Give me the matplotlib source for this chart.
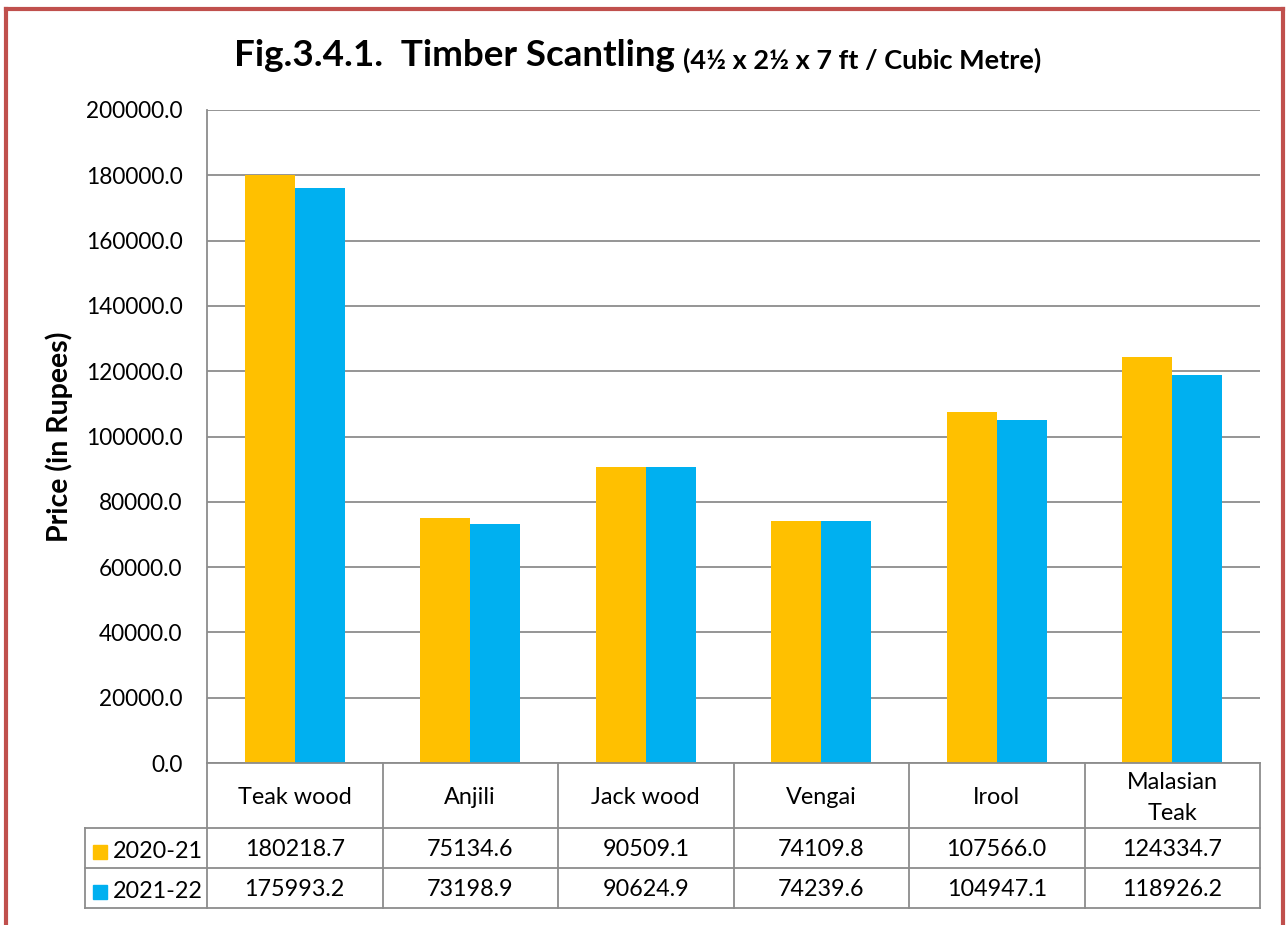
import matplotlib
matplotlib.use("Agg")
import matplotlib.pyplot as plt
from matplotlib.lines import Line2D
from matplotlib.patches import Rectangle

plt.rcParams['font.family'] = ['Lato', 'DejaVu Sans']

# data
categories = ["Teak wood", "Anjili", "Jack wood", "Vengai", "Irool", "Malasian\nTeak"]
series_names = ["2020-21", "2021-22"]
vals_2020 = [180218.7, 75134.6, 90509.1, 74109.8, 107566.0, 124334.7]
vals_2021 = [175993.2, 73198.9, 90624.9, 74239.6, 104947.1, 118926.2]
colors = ["#FFC000", "#00B0F0"]
yticks = [0, 20000, 40000, 60000, 80000, 100000, 120000, 140000, 160000, 180000, 200000]

W, H = 1287, 925
fig = plt.figure(figsize=(W / 100, H / 100), dpi=100)


def fx(px):
    return px / W


def fy(py):
    return 1 - py / H


# red outer frame
for xs, ys in [((6, 6), (9, 925)), ((6, 1283), (9, 9)), ((1283, 1283), (9, 925))]:
    fig.add_artist(Line2D([fx(x) for x in xs], [fy(y) for y in ys], color="#C0504D", lw=3))

left, right, top, bottom = 207, 1260, 110, 763
ax = fig.add_axes([fx(left), fy(bottom), fx(right - left), (bottom - top) / H])

n = len(categories)
bw = 0.285
x = list(range(n))
ax.bar([i + 0.5 - bw / 2 for i in x], vals_2020, bw, color=colors[0], zorder=3)
ax.bar([i + 0.5 + bw / 2 for i in x], vals_2021, bw, color=colors[1], zorder=3)

ax.set_xlim(0, n)
ax.set_ylim(0, 200000)
ax.set_yticks(yticks)
ax.set_yticklabels([f"{v:.1f}" for v in yticks], fontsize=16.3)
ax.set_xticks([])
ax.tick_params(axis="y", length=0, pad=17.5)
ax.grid(axis="y", color="#8C8C8C", lw=1.3, zorder=0)
for s in ["top", "right", "bottom"]:
    ax.spines[s].set_visible(False)
ax.spines["left"].set_color("#8C8C8C")
ax.spines["left"].set_linewidth(1.3)

fig.text(fx(59), fy(437), "Price (in Rupees)", rotation=90, ha="center", va="center",
         fontsize=20.5, fontweight="bold")

# data table below the axis
tc = "#8C8C8C"
fs = 16.8
cw = (right - left) / n
row_h = [763, 828, 868, 908]
for y in row_h:
    x0 = left if y == 763 else 85
    fig.add_artist(Line2D([fx(x0), fx(right)], [fy(y), fy(y)], color=tc, lw=1.3))
for k in range(n + 1):
    xx = left + k * cw
    fig.add_artist(Line2D([fx(xx), fx(xx)], [fy(763), fy(908)], color=tc, lw=1.3))
fig.add_artist(Line2D([fx(85), fx(85)], [fy(828), fy(908)], color=tc, lw=1.3))

for k, cat in enumerate(categories):
    cx = left + (k + 0.5) * cw
    fig.text(fx(cx), fy(798), cat, ha="center", va="center", fontsize=fs, linespacing=1.6)
    fig.text(fx(cx), fy(849), f"{vals_2020[k]:.1f}", ha="center", va="center", fontsize=fs)
    fig.text(fx(cx), fy(889), f"{vals_2021[k]:.1f}", ha="center", va="center", fontsize=fs)

for r, (name, c) in enumerate(zip(series_names, colors)):
    cy = 852 + 40 * r
    fig.add_artist(Rectangle((fx(93), fy(cy + 7)), fx(14), 14 / H, color=c))
    fig.text(fx(113), fy(cy - 1), name, ha="left", va="center", fontsize=fs)

# title
fig.text(fx(675), fy(56), "Fig.3.4.1.  Timber Scantling", ha="right", va="center",
         fontsize=26.5, fontweight="bold")
fig.text(fx(683), fy(60), "(4½ x 2½ x 7 ft / Cubic Metre)", ha="left", va="center",
         fontsize=19.5, fontweight="bold")

fig.savefig("out.png", dpi=100)
